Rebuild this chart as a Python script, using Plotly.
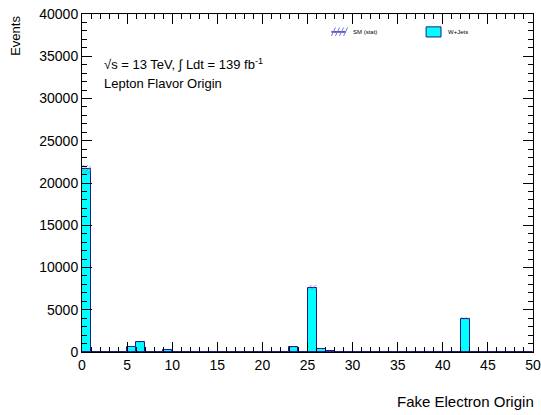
import plotly.graph_objects as go

# ---- data ----
bin_edges_low = list(range(0, 50))
wjets_values = [0.0] * 50
filled = {0: 21600, 5: 620, 6: 1150, 9: 250, 23: 550, 25: 7600, 26: 400, 27: 60, 32: 40, 42: 3950}
for k, v in filled.items():
    wjets_values[k] = v
stat_errors = [0.0] * 50
err_filled = {0: 550, 5: 70, 6: 90, 9: 40, 23: 70, 25: 280, 26: 60, 27: 20, 32: 15, 42: 180}
for k, v in err_filled.items():
    stat_errors[k] = v

x_ticks = [0, 5, 10, 15, 20, 25, 30, 35, 40, 45, 50]
y_ticks = [0, 5000, 10000, 15000, 20000, 25000, 30000, 35000, 40000]

centers = [b + 0.5 for b in bin_edges_low]
font_family = "Liberation Sans, Arial, sans-serif"

fig = go.Figure()
fig.add_trace(go.Bar(
    x=centers, y=wjets_values, width=1,
    marker=dict(color="#00ffff", line=dict(color="#1a1a8c", width=1)),
    showlegend=False,
))
fig.add_trace(go.Bar(
    x=centers, y=[2 * e for e in stat_errors],
    base=[v - e for v, e in zip(wjets_values, stat_errors)], width=1,
    marker=dict(color="rgba(0,0,0,0)", line=dict(width=0),
                pattern=dict(shape="/", fgcolor="#6666aa", bgcolor="rgba(0,0,0,0)", size=3, solidity=0.4)),
    showlegend=False,
))

fig.update_layout(
    barmode="overlay",
    width=541, height=415,
    margin=dict(l=82, r=8, t=14, b=63, autoexpand=False),
    paper_bgcolor="white", plot_bgcolor="white",
    font=dict(family=font_family, color="black", size=14),
    bargap=0,
)
axis_common = dict(
    showgrid=False, zeroline=False, showline=True, linecolor="black", linewidth=1,
    mirror="allticks", ticks="inside", ticklen=10, tickcolor="black", tickwidth=1,
    tickfont=dict(size=14, family=font_family), automargin=False,
)
fig.update_xaxes(
    range=[0, 50], tickvals=x_ticks, ticktext=[str(t) for t in x_ticks],
    minor=dict(dtick=1, ticks="inside", ticklen=5, tickcolor="black"),
    **axis_common,
)
fig.update_yaxes(
    range=[0, 40000], tickvals=y_ticks, ticktext=[str(t) for t in y_ticks],
    minor=dict(dtick=1000, ticks="inside", ticklen=5, tickcolor="black"),
    **axis_common,
)

annotations = [
    dict(x=1.007, y=-0.147, xref="paper", yref="paper", xanchor="right", yanchor="middle",
         text="Fake Electron Origin", showarrow=False, font=dict(size=15)),
    dict(x=-0.149, y=1.0, xref="paper", yref="paper", xanchor="center", yanchor="top",
         text="Events", textangle=-90, showarrow=False, font=dict(size=13)),
    dict(x=0.045, y=0.853, xref="paper", yref="paper", xanchor="left", yanchor="middle",
         text="√s = 13 TeV, ∫ Ldt = 139 fb<sup>-1</sup>", showarrow=False, font=dict(size=13)),
    dict(x=0.045, y=0.793, xref="paper", yref="paper", xanchor="left", yanchor="middle",
         text="Lepton Flavor Origin", showarrow=False, font=dict(size=13)),
    dict(x=0.596, y=0.947, xref="paper", yref="paper", xanchor="left", yanchor="middle",
         text="SM (stat)", showarrow=False, font=dict(size=6)),
    dict(x=0.808, y=0.947, xref="paper", yref="paper", xanchor="left", yanchor="middle",
         text="W+Jets", showarrow=False, font=dict(size=6)),
]
fig.update_layout(annotations=annotations)

shapes = [
    # W+Jets legend box
    dict(type="rect", xref="paper", yref="paper", x0=0.763, x1=0.796, y0=0.932, y1=0.962,
         fillcolor="#00ffff", line=dict(color="#1a1a8c", width=1)),
    # SM (stat) legend hatch
    dict(type="line", xref="paper", yref="paper", x0=0.553, x1=0.585, y0=0.947, y1=0.947,
         line=dict(color="#3333cc", width=1.5)),
]
for i in range(4):
    x0 = 0.553 + i * 0.009
    shapes.append(dict(type="line", xref="paper", yref="paper", x0=x0, x1=x0 + 0.009,
                       y0=0.935, y1=0.96, line=dict(color="#7777cc", width=1)))
fig.update_layout(shapes=shapes)

fig.write_html("out.html", config={"displayModeBar": False},
               post_script="document.body.style.margin='0';document.body.style.overflow='hidden';")
